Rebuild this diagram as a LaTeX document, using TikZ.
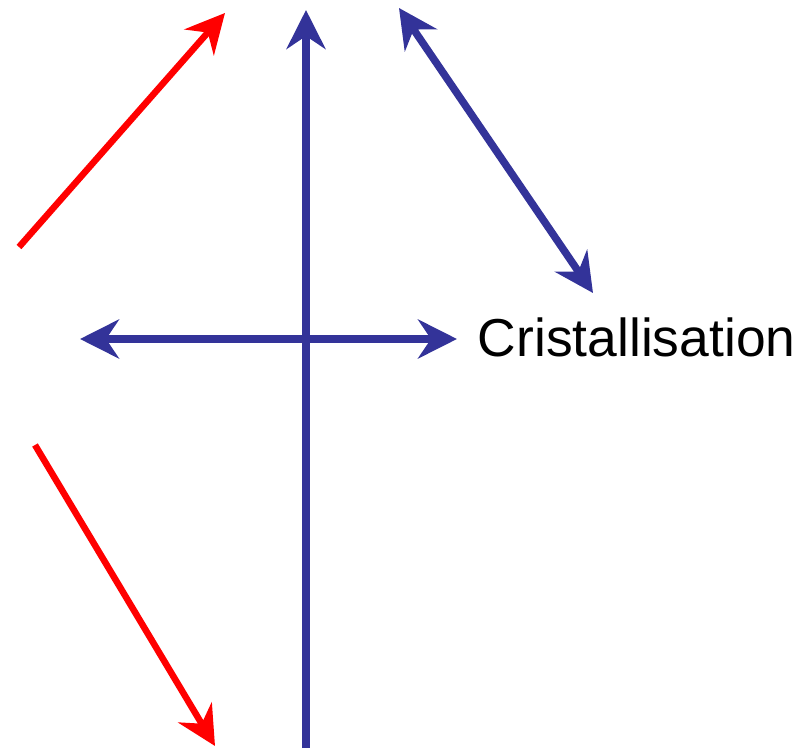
\documentclass[tikz,border=0pt]{standalone}
\usepackage{fontspec}
\setmainfont{Liberation Sans}
\usetikzlibrary{arrows.meta}
\definecolor{cblue}{RGB}{51,51,153}
\definecolor{cred}{RGB}{255,0,0}
\tikzset{
  tip/.style={-{Stealth[length=0.78cm, width=0.78cm, inset=0.26cm]}},
  tips/.style={{Stealth[length=0.78cm, width=0.78cm, inset=0.26cm]}-{Stealth[length=0.78cm, width=0.78cm, inset=0.26cm]}},
  bluearrow/.style={draw=cblue, fill=cblue, line width=0.15cm},
  redarrow/.style={draw=cred, fill=cred, line width=0.13cm}
}
\begin{document}
\begin{tikzpicture}
\useasboundingbox (0,0) rectangle (15.92,-14.98);
\coordinate (r1a) at (0.38,-4.94);
\coordinate (r1b) at (4.50,-0.26);
\coordinate (r2a) at (0.70,-8.90);
\coordinate (r2b) at (4.30,-14.92);
\coordinate (vb) at (6.12,-14.96);
\coordinate (vt) at (6.12,-0.20);
\coordinate (d1) at (7.98,-0.16);
\coordinate (d2) at (11.86,-5.86);
\coordinate (hl) at (1.60,-6.78);
\coordinate (hr) at (9.14,-6.78);
\node[anchor=base west, inner sep=0pt, font=\fontsize{30.4}{36}\selectfont] (cri) at (9.55,-7.12) {Cristallisation};
\draw[redarrow, tip] (r1a) -- (r1b);
\draw[redarrow, tip] (r2a) -- (r2b);
\draw[bluearrow, tip] (vb) -- (vt);
\draw[bluearrow, tips] (d1) -- (d2);
\draw[bluearrow, tips] (hl) -- (hr);
\end{tikzpicture}
\end{document}
